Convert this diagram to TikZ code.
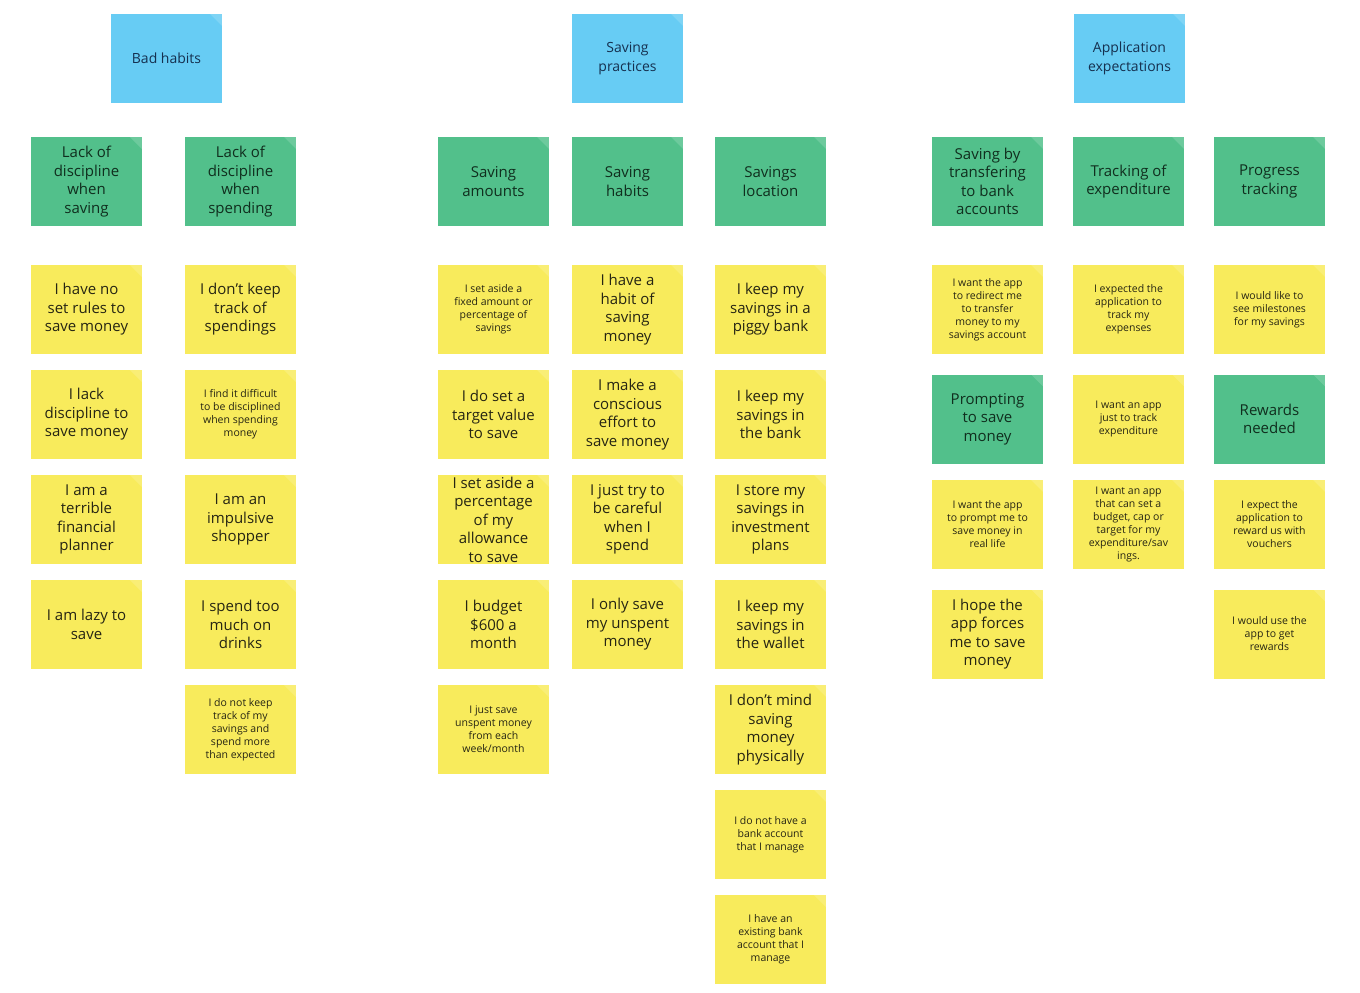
\documentclass[tikz,border=0pt]{standalone}
\usepackage{fontspec}
\setmainfont{Open Sans}
\definecolor{cblue}{HTML}{67CCF4}
\definecolor{cgreen}{HTML}{52C08B}
\definecolor{cyel}{HTML}{F8EB5C}
\definecolor{tblue}{HTML}{15304F}
\definecolor{tgreen}{HTML}{102E1E}
\definecolor{tyel}{HTML}{262513}
\tikzset{
  notebase/.style={rectangle, minimum width=111pt, minimum height=89pt, inner sep=0pt, align=center,
    path picture={\fill[white,opacity=0.16] (path picture bounding box.north east) -- ++(-12pt,0pt) -- ++(12pt,-12pt) -- cycle;}},
  bluenote/.style={notebase, fill=cblue, text=tblue, font=\fontsize{14}{19}\selectfont},
  greennote/.style={notebase, fill=cgreen, text=tgreen, font=\fontsize{15}{18.5}\selectfont},
  bignote/.style={notebase, fill=cyel, text=tyel, font=\fontsize{15}{18.5}\selectfont},
  smallnote/.style={notebase, fill=cyel, text=tyel, font=\fontsize{10.5}{13}\selectfont},
}
\begin{document}
\begin{tikzpicture}[x=1pt,y=-1pt]
\fill[white] (0,0) rectangle (1360,993);
\useasboundingbox (0,0) rectangle (1360,993);

% headers
\node[bluenote] (b1) at (166.5,58.5) {Bad habits};
\node[bluenote] (b2) at (627.5,58.5) {Saving\\practices};
\node[bluenote] (b3) at (1129.5,58.5) {Application\\expectations};

% column 1
\node[greennote] (g1) at (86.5,181.5) {Lack of\\discipline\\when\\saving};
\node[bignote] (n11) at (86.5,309.5) {I have no\\set rules to\\save money};
\node[bignote] (n12) at (86.5,414.5) {I lack\\discipline to\\save money};
\node[bignote] (n13) at (86.5,519.5) {I am a\\terrible\\financial\\planner};
\node[bignote] (n14) at (86.5,624.5) {I am lazy to\\save};

% column 2
\node[greennote] (g2) at (240.5,181.5) {Lack of\\discipline\\when\\spending};
\node[bignote] (n21) at (240.5,309.5) {I don't keep\\track of\\spendings};
\node[smallnote] (n22) at (240.5,414.5) {I find it difficult\\to be disciplined\\when spending\\money};
\node[bignote] (n23) at (240.5,519.5) {I am an\\impulsive\\shopper};
\node[bignote] (n24) at (240.5,624.5) {I spend too\\much on\\drinks};
\node[smallnote] (n25) at (240.5,729.5) {I do not keep\\track of my\\savings and\\spend more\\than expected};

% column 3
\node[greennote] (g3) at (493.5,181.5) {Saving\\amounts};
\node[smallnote] (n31) at (493.5,309.5) {I set aside a\\fixed amount or\\percentage of\\savings};
\node[bignote] (n32) at (493.5,414.5) {I do set a\\target value\\to save};
\node[bignote] (n33) at (493.5,519.5) {I set aside a\\percentage\\of my\\allowance\\to save};
\node[bignote] (n34) at (493.5,624.5) {I budget\\\$600 a\\month};
\node[smallnote] (n35) at (493.5,729.5) {I just save\\unspent money\\from each\\week/month};

% column 4
\node[greennote] (g4) at (627.5,181.5) {Saving\\habits};
\node[bignote] (n41) at (627.5,309.5) {I have a\\habit of\\saving\\money};
\node[bignote] (n42) at (627.5,414.5) {I make a\\conscious\\effort to\\save money};
\node[bignote] (n43) at (627.5,519.5) {I just try to\\be careful\\when I\\spend};
\node[bignote] (n44) at (627.5,624.5) {I only save\\my unspent\\money};

% column 5
\node[greennote] (g5) at (770.5,181.5) {Savings\\location};
\node[bignote] (n51) at (770.5,309.5) {I keep my\\savings in a\\piggy bank};
\node[bignote] (n52) at (770.5,414.5) {I keep my\\savings in\\the bank};
\node[bignote] (n53) at (770.5,519.5) {I store my\\savings in\\investment\\plans};
\node[bignote] (n54) at (770.5,624.5) {I keep my\\savings in\\the wallet};
\node[bignote] (n55) at (770.5,729.5) {I don't mind\\saving\\money\\physically};
\node[smallnote] (n56) at (770.5,834.5) {I do not have a\\bank account\\that I manage};
\node[smallnote] (n57) at (770.5,939.5) {I have an\\existing bank\\account that I\\manage};

% column 6
\node[greennote] (g6) at (987.5,181.5) {Saving by\\transfering\\to bank\\accounts};
\node[smallnote] (n61) at (987.5,309.5) {I want the app\\to redirect me\\to transfer\\money to my\\savings account};
\node[greennote] (g6b) at (987.5,419) {Prompting\\to save\\money};
\node[smallnote] (n62) at (987.5,524.5) {I want the app\\to prompt me to\\save money in\\real life};
\node[bignote] (n63) at (987.5,634) {I hope the\\app forces\\me to save\\money};

% column 7
\node[greennote] (g7) at (1128.5,181.5) {Tracking of\\expenditure};
\node[smallnote] (n71) at (1128.5,309.5) {I expected the\\application to\\track my\\expenses};
\node[smallnote] (n72) at (1128.5,419) {I want an app\\just to track\\expenditure};
\node[smallnote] (n73) at (1128.5,524.5) {I want an app\\that can set a\\budget, cap or\\target for my\\expenditure/sav\\ings.};

% column 8
\node[greennote] (g8) at (1269.5,181.5) {Progress\\tracking};
\node[smallnote] (n81) at (1269.5,309.5) {I would like to\\see milestones\\for my savings};
\node[greennote] (g8b) at (1269.5,419) {Rewards\\needed};
\node[smallnote] (n82) at (1269.5,524.5) {I expect the\\application to\\reward us with\\vouchers};
\node[smallnote] (n83) at (1269.5,634) {I would use the\\app to get\\rewards};
\end{tikzpicture}
\end{document}
